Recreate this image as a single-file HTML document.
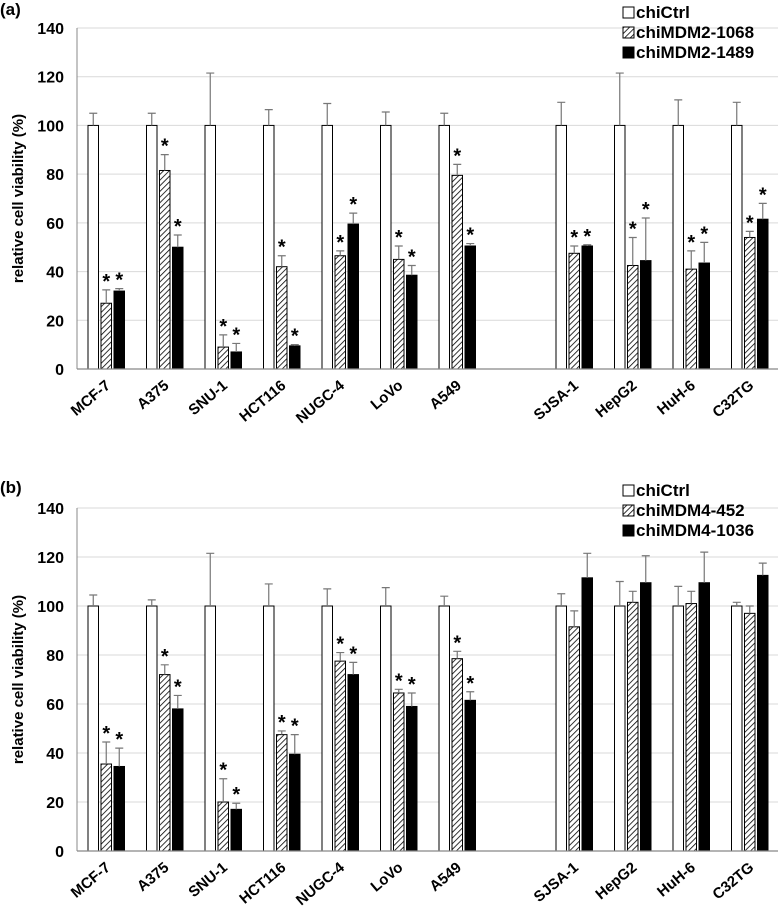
<!DOCTYPE html>
<html><head><meta charset="utf-8"><style>
body{margin:0;background:#fff}
svg{display:block;font-family:"Liberation Sans",Arial,sans-serif}
</style></head><body>
<svg id="c" width="778" height="916"></svg>
<script>
const categories=["MCF-7","A375","SNU-1","HCT116","NUGC-4","LoVo","A549","","SJSA-1","HepG2","HuH-6","C32TG"];
const slots=[0,1,2,3,4,5,6,8,9,10,11];
const labels=["MCF-7","A375","SNU-1","HCT116","NUGC-4","LoVo","A549","SJSA-1","HepG2","HuH-6","C32TG"];
const yTicks=[0,20,40,60,80,100,120,140];
const aCtrl=[100,100,100,100,100,100,100,100,100,100,100];
const aCtrlErr=[105,105,121.5,106.5,109,105.5,105,109.5,121.5,110.5,109.5];
const aS1=[27,81.5,9,42,46.5,45,79.5,47.5,42.5,41,54];
const aS1Err=[32.5,88,14,46.5,48.5,50.5,84,50.5,54,48.5,56.5];
const aS2=[32,50,7,9.5,59.5,38.5,50.5,50.5,44.5,43.5,61.5];
const aS2Err=[33,55,10.5,10,64,42.5,51.5,51,62,52,68];
const aStars=[1,1,1,1,1,1,1,1,1,1,1];
const bCtrl=[100,100,100,100,100,100,100,100,100,100,100];
const bCtrlErr=[104.5,102.5,121.5,109,107,107.5,104,105,110,108,101.5];
const bS1=[35.5,72,20,47.5,77.5,64.5,78.5,91.5,101.5,101,97];
const bS1Err=[44.5,76,29.5,49,81,66,81.5,98,106,106,100];
const bS2=[34.5,58,17,39.5,72,59,61.5,111.5,109.5,109.5,112.5];
const bS2Err=[42,63.5,19.5,47.5,77,64.5,65,121.5,120.5,122,117.5];
const bStars=[1,1,1,1,1,1,1,0,0,0,0];

const NS="http://www.w3.org/2000/svg";
const svg=document.getElementById('c');
function mk(t,a,p){const e=document.createElementNS(NS,t);for(const k in a)e.setAttribute(k,a[k]);(p||svg).appendChild(e);return e;}
const defs=mk('defs',{});
const pat=mk('pattern',{id:'hatch',patternUnits:'userSpaceOnUse',width:4,height:4,patternTransform:'rotate(45)'},defs);
mk('rect',{width:4,height:4,fill:'#fff'},pat);
mk('line',{x1:0,y1:0,x2:0,y2:4,stroke:'#000','stroke-width':1.6},pat);

function panel(tag,top,y0,y140,ctrl,ce,s1,e1,s2,e2,stars,leg){
  const g=mk('g',{});
  
  
  const ys=v=>y0-(y0-y140)*v/140;
  const xL=77,slotW=58.5;
  const t=mk('text',{x:0,y:top+15,'font-size':17,'font-weight':'bold'},g);t.textContent='('+tag+')';
  
  yTicks.forEach(v=>{
    if(v>0){const gl=mk('line',{x1:xL,x2:778,y1:ys(v),y2:ys(v),stroke:'#d9d9d9','stroke-width':1},g);
    }
    const tl=mk('text',{x:64,y:ys(v)+6,'font-size':16,'font-weight':'bold','text-anchor':'end'},g);tl.textContent=v;
    
  });
  const ax=mk('line',{x1:xL,x2:xL,y1:y140,y2:y0,stroke:'#888','stroke-width':1},g);
  
  const yt=mk('text',{x:0,y:0,'font-size':15,'font-weight':'bold','text-anchor':'middle',transform:`translate(23,${(y0+y140)/2}) rotate(-90)`},g);
  yt.textContent='relative cell viability (%)';
  
  const bw=10.5;
  function bar(x,v,err,fill,star,name){
    const r=mk('rect',{x:x,y:ys(v),width:bw,height:ys(0)-ys(v),fill:fill,stroke:'#000','stroke-width':1},g);
    
    const cx=x+bw/2;
    const el=mk('path',{d:`M${cx},${ys(v)}V${ys(err)}M${cx-4},${ys(err)}H${cx+4}`,stroke:'#777','stroke-width':1.2,fill:'none'},g);
    
    if(star){const s=mk('text',{x:cx,y:ys(err)-2,'font-size':20,'font-weight':'bold','text-anchor':'middle'},g);s.textContent='*';
      }
  }
  slots.forEach((s,i)=>{
    const x0=xL+slotW*s;
    bar(x0+11,ctrl[i],ce[i],'#fff',false,'bar-ctrl-'+labels[i]);
    bar(x0+24,s1[i],e1[i],'url(#hatch)',stars[i],'bar-s1-'+labels[i]);
    bar(x0+37,s2[i],e2[i],'#000',stars[i],'bar-s2-'+labels[i]);
    const cx=x0+slotW/2+5;
    const lt=mk('text',{x:0,y:0,'font-size':15,'font-weight':'bold','text-anchor':'end',transform:`translate(${cx},${y0+18}) rotate(-40)`},g);
    lt.textContent=labels[i];
    
  });
  const xa=mk('line',{x1:xL,x2:778,y1:y0,y2:y0,stroke:'#888','stroke-width':1.2},g);
  
  const fills=['#fff','url(#hatch)','#000'];
  leg.forEach((n,i)=>{
    const ly=top+18+i*20;
    const b=mk('rect',{x:623,y:ly-11,width:11,height:11,fill:fills[i],stroke:'#000','stroke-width':1},g);
    
    const lt=mk('text',{x:636,y:ly,'font-size':17,'font-weight':'bold'},g);lt.textContent=n;
    
  });
}
panel('a',0,369,28,aCtrl,aCtrlErr,aS1,aS1Err,aS2,aS2Err,aStars,['chiCtrl','chiMDM2-1068','chiMDM2-1489']);
panel('b',478,851,508,bCtrl,bCtrlErr,bS1,bS1Err,bS2,bS2Err,bStars,['chiCtrl','chiMDM4-452','chiMDM4-1036']);
</script>
</body></html>
